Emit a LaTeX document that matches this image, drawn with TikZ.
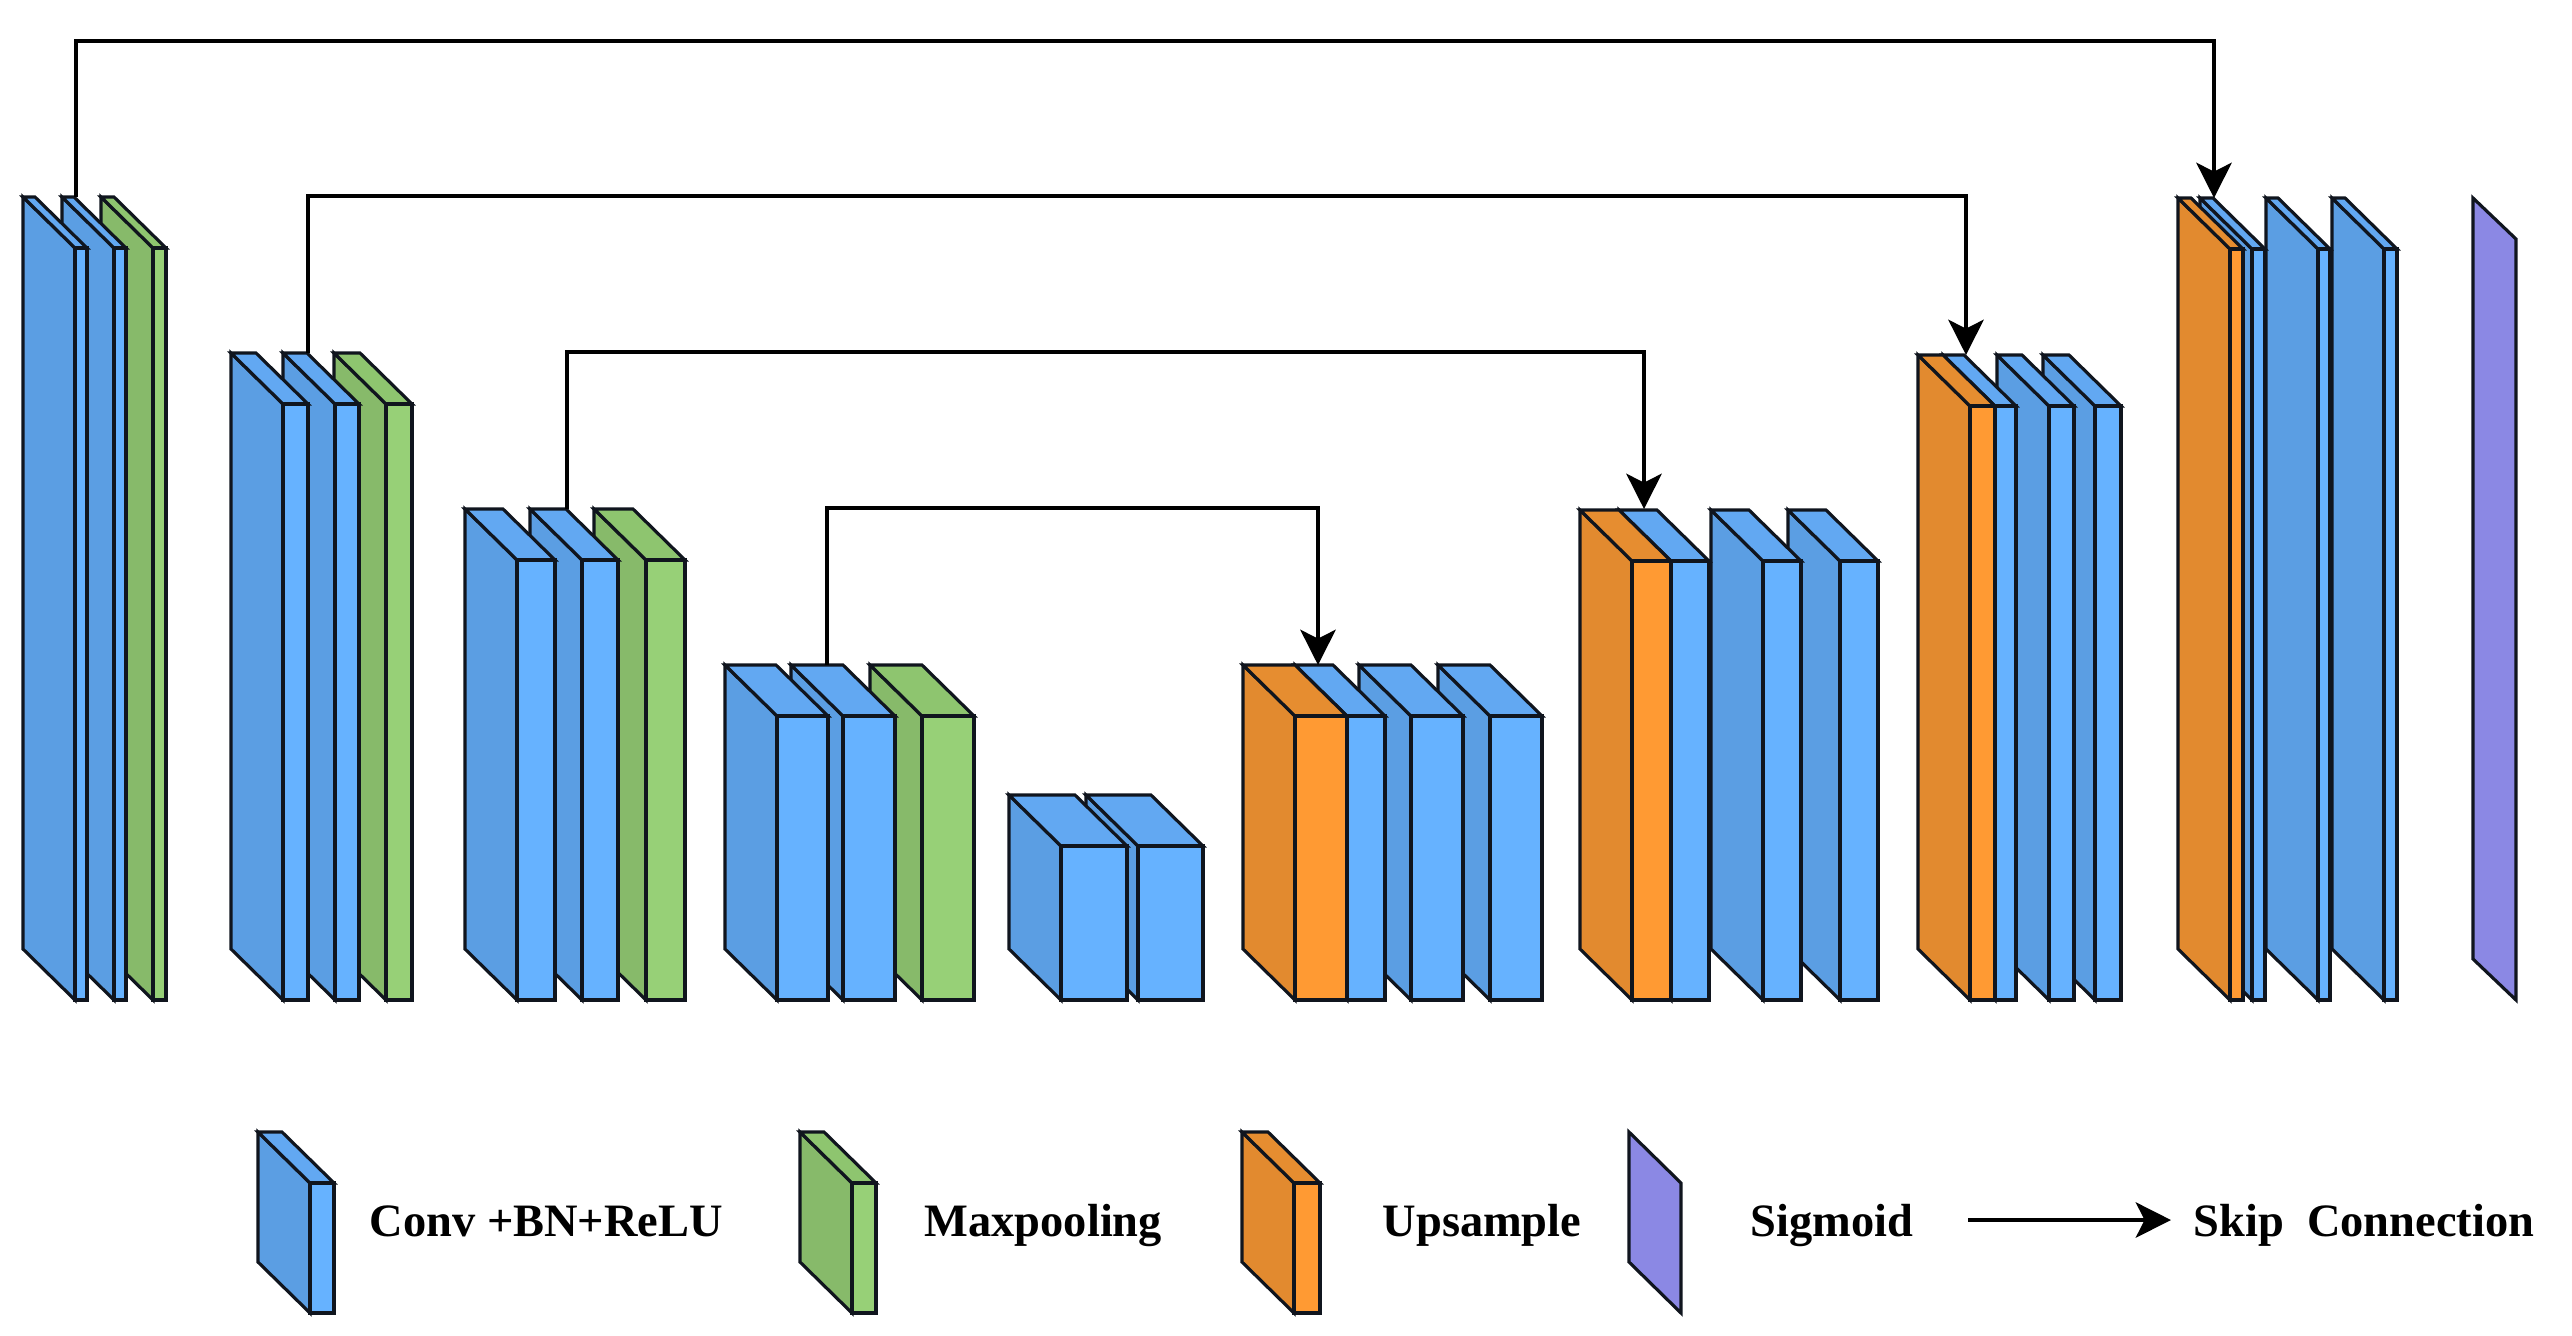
\documentclass[tikz,border=0pt]{standalone}
\usepackage{fontspec}
\setmainfont{Liberation Serif}
\usetikzlibrary{arrows.meta}

\definecolor{bluefront}{HTML}{66B2FF}
\definecolor{blueside}{HTML}{5B9EE3}
\definecolor{bluetop}{HTML}{62A8F2}
\definecolor{greenfront}{HTML}{97D077}
\definecolor{greenside}{HTML}{87BA6A}
\definecolor{greentop}{HTML}{8EC56F}
\definecolor{orangefront}{HTML}{FF9A33}
\definecolor{orangeside}{HTML}{E28A2F}
\definecolor{orangetop}{HTML}{E68D30}
\definecolor{sigmoidfill}{HTML}{8B88E4}
\definecolor{edge}{HTML}{10151E}

\tikzset{
  slabline/.style={draw=edge,line width=0.9pt},
  skip/.style={line width=1.4pt,-{Stealth[length=10pt,width=10pt,inset=2.5pt]}},
  legtext/.style={anchor=base west,inner sep=0pt,font=\bfseries\fontsize{13.2}{15}\selectfont}
}

% slab: front left x, width, front top y, bottom y, colour
\newcommand{\drawslab}[5]{%
  \filldraw[slabline,fill=#5side] (#1,#4) -- (#1,#3) -- ({#1-52},{#3-51}) -- ({#1-52},{#4-51}) -- cycle;
  \filldraw[slabline,fill=#5top] (#1,#3) -- ({#1-52},{#3-51}) -- ({#1+#2-52},{#3-51}) -- ({#1+#2},#3) -- cycle;
  \filldraw[slabline,fill=#5front] (#1,#3) rectangle ({#1+#2},#4);
}

\begin{document}
\begin{tikzpicture}[x=0.01cm,y=-0.01cm]
   \useasboundingbox (0,0) rectangle (2572,1335);
   % encoder
   \drawslab{153}{13}{248}{1000}{green}
   \drawslab{114}{12}{248}{1000}{blue}
   \drawslab{75}{12}{248}{1000}{blue}
   \drawslab{386}{26}{404}{1000}{green}
   \drawslab{335}{24}{404}{1000}{blue}
   \drawslab{283}{25}{404}{1000}{blue}
   \drawslab{646}{39}{560}{1000}{green}
   \drawslab{582}{36}{560}{1000}{blue}
   \drawslab{517}{38}{560}{1000}{blue}
   \drawslab{922}{52}{716}{1000}{green}
   \drawslab{843}{52}{716}{1000}{blue}
   \drawslab{777}{51}{716}{1000}{blue}
   % bottom
   \drawslab{1138}{65}{846}{1000}{blue}
   \drawslab{1061}{66}{846}{1000}{blue}
   % decoder
   \drawslab{1490}{52}{716}{1000}{blue}
   \drawslab{1411}{52}{716}{1000}{blue}
   \drawslab{1347}{38}{716}{1000}{blue}
   \drawslab{1295}{52}{716}{1000}{orange}
   \drawslab{1840}{38}{561}{1000}{blue}
   \drawslab{1763}{38}{561}{1000}{blue}
   \drawslab{1671}{38}{561}{1000}{blue}
   \drawslab{1632}{39}{561}{1000}{orange}
   \drawslab{2095}{26}{406}{1000}{blue}
   \drawslab{2049}{25}{406}{1000}{blue}
   \drawslab{1995}{21}{406}{1000}{blue}
   \drawslab{1970}{25}{406}{1000}{orange}
   \drawslab{2384}{13}{249}{1000}{blue}
   \drawslab{2318}{12}{249}{1000}{blue}
   \drawslab{2252}{13}{249}{1000}{blue}
   \drawslab{2230}{13}{249}{1000}{orange}
   \filldraw[slabline,fill=sigmoidfill] (2473,198) -- (2516,239) -- (2516,1000) -- (2473,959) -- cycle;

   % skip connections
   \coordinate (enc1) at (76,197);
   \coordinate (enc2) at (308,353);
   \coordinate (enc3) at (567,509);
   \coordinate (enc4) at (827,665);
   \coordinate (dec1) at (1318,665);
   \coordinate (dec2) at (1644,509);
   \coordinate (dec3) at (1966,355);
   \coordinate (dec4) at (2214,198);
   \coordinate (lvl1) at (0,41);
   \coordinate (lvl2) at (0,196);
   \coordinate (lvl3) at (0,352);
   \coordinate (lvl4) at (0,508);
   \draw[skip] (enc1) -- (enc1 |- lvl1) -| (dec4);
   \draw[skip] (enc2) -- (enc2 |- lvl2) -| (dec3);
   \draw[skip] (enc3) -- (enc3 |- lvl3) -| (dec2);
   \draw[skip] (enc4) -- (enc4 |- lvl4) -| (dec1);

   % legend
   \drawslab{310}{24}{1183}{1313}{blue}
   \node[legtext] (convtxt) at (369,1236) {Conv +BN+ReLU};
   \drawslab{852}{24}{1183}{1313}{green}
   \node[legtext] (pooltxt) at (924,1236) {Maxpooling};
   \drawslab{1294}{26}{1183}{1313}{orange}
   \node[legtext] (uptxt) at (1382,1236) {Upsample};
   \filldraw[slabline,fill=sigmoidfill] (1629,1132) -- (1681,1183) -- (1681,1313) -- (1629,1262) -- cycle;
   \node[legtext] (sigtxt) at (1750,1236) {Sigmoid};
   \coordinate (legfrom) at (1968,1220);
   \coordinate (legto) at (2171,1220);
   \draw[skip] (legfrom) -- (legto);
   \node[legtext] (skiptxt) at (2193,1236) {Skip\ \ Connection};
\end{tikzpicture}
\end{document}
